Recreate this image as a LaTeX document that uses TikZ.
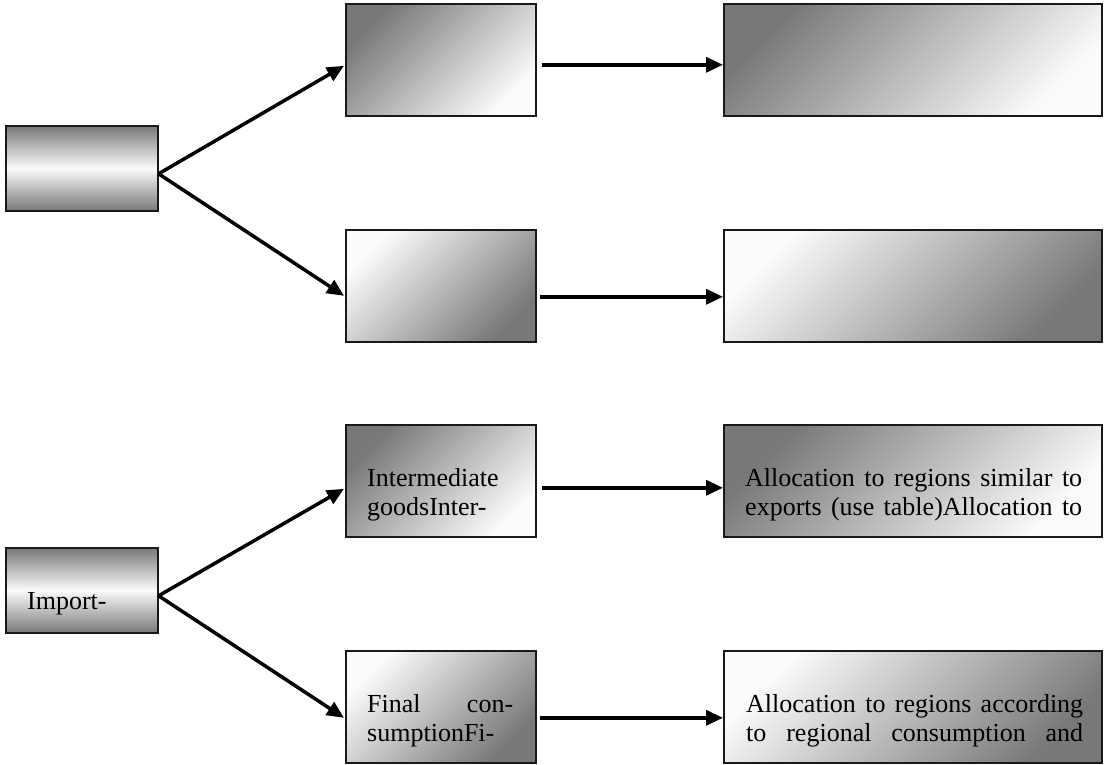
\documentclass[tikz,border=0pt]{standalone}
\usepackage{fontspec}
\setmainfont{Liberation Serif}
\usetikzlibrary{arrows.meta,calc}
\definecolor{dk}{gray}{0.47}
\definecolor{lt}{gray}{0.985}
\begin{document}
\begin{tikzpicture}[x=1pt,y=1pt,
 box/.style={draw=black!90, line width=1.6pt, anchor=north west, inner sep=0pt, minimum height=112pt},
 vgrad/.style={top color=dk, bottom color=dk, middle color=lt},
 darkTL/.style={top color=dk, bottom color=lt, shading angle=45},
 lightTL/.style={top color=lt, bottom color=dk, shading angle=45},
 conn/.style={line width=3.5pt, -{Triangle[length=17pt,width=15pt]}},
 lbl/.style={anchor=base west, inner sep=0pt, font=\fontsize{26}{29}\selectfont}]
\useasboundingbox (0,0) rectangle (1104,-764);
% boxes
\node[box, vgrad, minimum width=152pt, minimum height=85pt] (A) at (5,-125) {};
\node[box, darkTL, minimum width=190pt] (B) at (345,-3) {};
\node[box, darkTL, minimum width=378pt] (C) at (723,-3) {};
\node[box, lightTL, minimum width=190pt] (D) at (345,-229) {};
\node[box, lightTL, minimum width=378pt] (E) at (723,-229) {};
\node[box, darkTL, minimum width=190pt] (F) at (345,-424) {};
\node[box, darkTL, minimum width=378pt] (G) at (723,-424) {};
\node[box, vgrad, minimum width=152pt, minimum height=85pt] (H) at (5,-547) {};
\node[box, lightTL, minimum width=190pt] (I) at (345,-650) {};
\node[box, lightTL, minimum width=378pt] (J) at (723,-650) {};
% labels
\node[lbl] (Ft) at ($(F.north west)+(22,-62)$) {\parbox[t]{146pt}{Intermediate\par goodsInter-}};
\node[lbl] (Gt) at ($(G.north west)+(22,-62)$) {\parbox[t]{337pt}{\makebox[\linewidth][s]{Allocation to regions similar to}\par\makebox[\linewidth][s]{exports (use table)Allocation to}}};
\node[lbl] (Ht) at ($(H.north west)+(22,-62)$) {Import-};
\node[lbl] (It) at ($(I.north west)+(22,-62)$) {\parbox[t]{146pt}{\makebox[\linewidth][s]{Final con-}\par sumptionFi-}};
\node[lbl] (Jt) at ($(J.north west)+(23,-62)$) {\parbox[t]{337pt}{\makebox[\linewidth][s]{Allocation to regions according}\par\makebox[\linewidth][s]{to regional consumption and}}};
% connectors
\coordinate (Ao) at ($(A.east)+(0,-5.5)$);
\coordinate (Ho) at ($(H.east)+(0,-5.5)$);
\draw[conn] (Ao) -- ($(B.west)+(-1,-6)$);
\draw[conn] (Ao) -- ($(D.west)+(-1,-10)$);
\draw[conn] ($(B.east)+(5,-5)$) -- ($(C.west)+(0,-5)$);
\draw[conn] ($(D.east)+(3,-11)$) -- ($(E.west)+(0,-11)$);
\draw[conn] (Ho) -- ($(F.west)+(-1,-8)$);
\draw[conn] (Ho) -- ($(I.west)+(-1,-11)$);
\draw[conn] ($(F.east)+(5,-7)$) -- ($(G.west)+(0,-7)$);
\draw[conn] ($(I.east)+(3,-11)$) -- ($(J.west)+(0,-11)$);
\end{tikzpicture}
\end{document}
